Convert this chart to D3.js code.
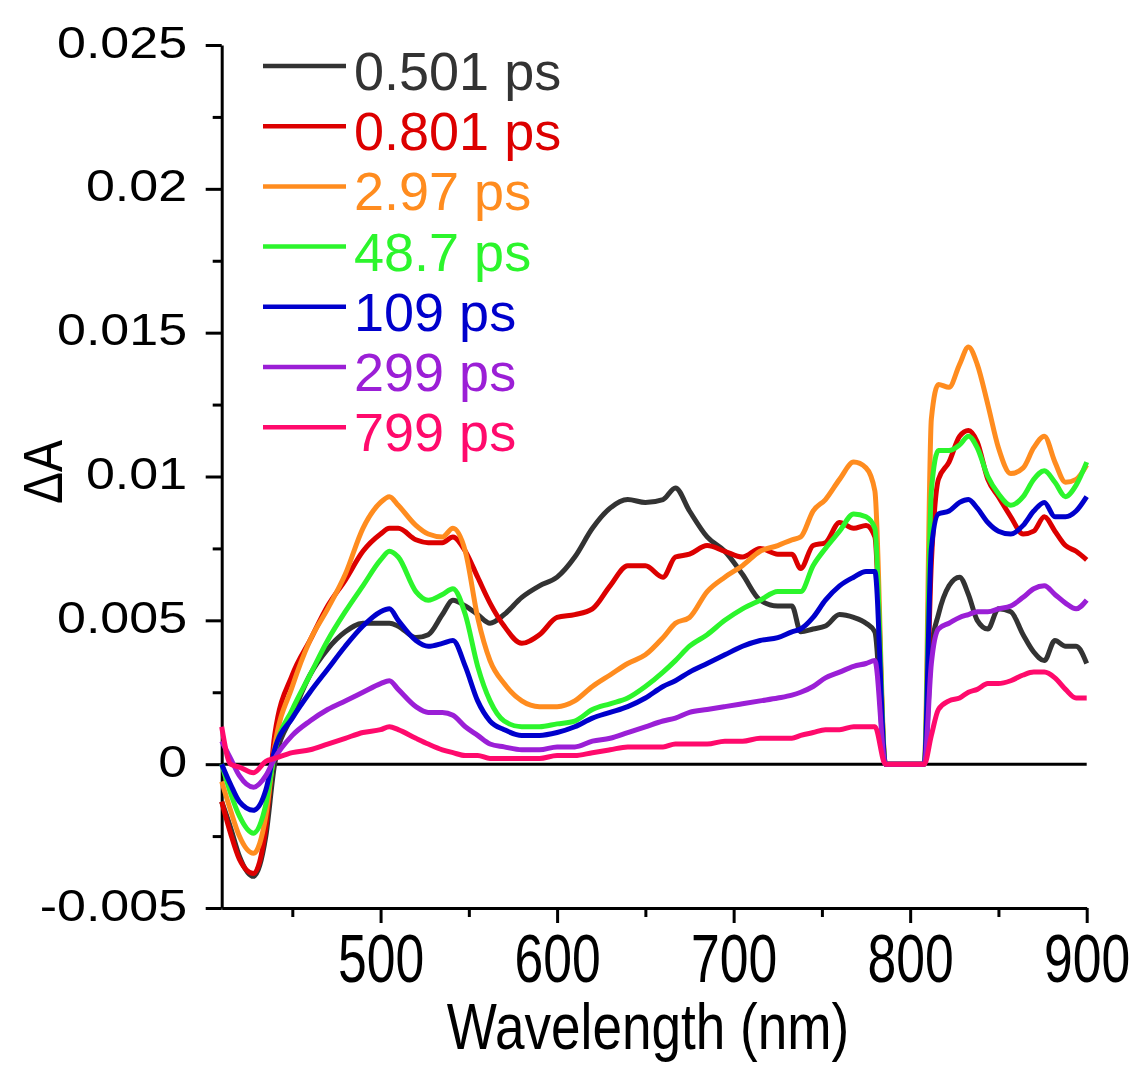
<!DOCTYPE html>
<html>
<head>
<meta charset="utf-8">
<script src="https://cdn.jsdelivr.net/npm/d3@7"></script>
<style>
  body { margin: 0; background: #fff; }
  svg { display: block; font-family: "Liberation Sans", Arial, sans-serif; }
</style>
</head>
<body>
<div id="chart"></div>
<script>
// wavelength grid (nm) shared by all spectra
const wavelengths = [
  410, 415, 420, 428, 435, 440, 450, 460, 470, 480,
  490, 500, 505, 510, 520, 527, 535, 541, 548, 555,
  562, 570, 580, 590, 600, 610, 620, 630, 640, 650,
  660, 667, 675, 685, 695, 705, 715, 725, 733, 738,
  745, 752, 760, 768, 775, 780, 786, 808, 812, 816,
  822, 828, 833, 838, 844, 850, 857, 864, 870, 876,
  882, 888, 894, 900
];

// ΔA values
const dA_0501 = [
  -0.0013, -0.0022, -0.0032, -0.0039, -0.0025, 0.0000, 0.0017, 0.0031, 0.0040, 0.0046,
  0.0049, 0.0049, 0.0049, 0.0048, 0.0044, 0.0045, 0.0052, 0.0057, 0.0055, 0.0052,
  0.0049, 0.0052, 0.0058, 0.0062, 0.0065, 0.0072, 0.0082, 0.0089, 0.0092, 0.0091,
  0.0092, 0.0096, 0.0088, 0.0079, 0.0074, 0.0066, 0.0057, 0.0055, 0.0055, 0.0046,
  0.0047, 0.0048, 0.0052, 0.0051, 0.0049, 0.0046, 0, 0, 0.0040, 0.0052,
  0.0062, 0.0065, 0.0059, 0.0050, 0.0047, 0.0054, 0.0053, 0.0045, 0.0039, 0.0036,
  0.0043, 0.0041, 0.0041, 0.0035
];
const dA_0801 = [
  -0.0013, -0.0024, -0.0033, -0.0038, -0.0022, 0.0010, 0.0031, 0.0043, 0.0055, 0.0064,
  0.0074, 0.0080, 0.0082, 0.0082, 0.0078, 0.0077, 0.0077, 0.0079, 0.0074, 0.0065,
  0.0056, 0.0048, 0.0042, 0.0045, 0.0051, 0.0052, 0.0054, 0.0062, 0.0069, 0.0069,
  0.0065, 0.0072, 0.0073, 0.0076, 0.0074, 0.0072, 0.0075, 0.0073, 0.0073, 0.0068,
  0.0076, 0.0077, 0.0084, 0.0082, 0.0083, 0.0079, 0, 0, 0.0070, 0.0099,
  0.0105, 0.0114, 0.0116, 0.0112, 0.0099, 0.0093, 0.0086, 0.0080, 0.0081, 0.0086,
  0.0081, 0.0076, 0.0074, 0.0071
];
const dA_297 = [
  -0.0006, -0.0016, -0.0025, -0.0031, -0.0018, 0.0006, 0.0027, 0.0043, 0.0054, 0.0066,
  0.0082, 0.0091, 0.0093, 0.0090, 0.0083, 0.0080, 0.0079, 0.0082, 0.0074, 0.0051,
  0.0036, 0.0028, 0.0022, 0.0020, 0.0020, 0.0022, 0.0027, 0.0031, 0.0035, 0.0038,
  0.0044, 0.0049, 0.0051, 0.0060, 0.0065, 0.0069, 0.0074, 0.0076, 0.0078, 0.0079,
  0.0088, 0.0092, 0.0099, 0.0105, 0.0103, 0.0095, 0, 0, 0.0120, 0.0132,
  0.0131, 0.0139, 0.0145, 0.0139, 0.0125, 0.0110, 0.0101, 0.0103, 0.0110, 0.0114,
  0.0105, 0.0098, 0.0099, 0.0104
];
const dA_487 = [
  0.0000, -0.0010, -0.0018, -0.0024, -0.0014, 0.0004, 0.0019, 0.0031, 0.0043, 0.0053,
  0.0062, 0.0071, 0.0074, 0.0072, 0.0060, 0.0057, 0.0059, 0.0061, 0.0052, 0.0034,
  0.0022, 0.0015, 0.0013, 0.0013, 0.0014, 0.0015, 0.0019, 0.0021, 0.0023, 0.0027,
  0.0032, 0.0036, 0.0041, 0.0045, 0.0050, 0.0054, 0.0057, 0.0060, 0.0060, 0.0060,
  0.0069, 0.0075, 0.0081, 0.0087, 0.0086, 0.0082, 0, 0, 0.0095, 0.0109,
  0.0109, 0.0111, 0.0114, 0.0110, 0.0100, 0.0094, 0.0090, 0.0093, 0.0099, 0.0102,
  0.0098, 0.0093, 0.0097, 0.0105
];
const dA_109 = [
  0.0000, -0.0007, -0.0013, -0.0016, -0.0009, 0.0005, 0.0016, 0.0025, 0.0033, 0.0041,
  0.0048, 0.0053, 0.0054, 0.0050, 0.0043, 0.0041, 0.0042, 0.0043, 0.0034, 0.0022,
  0.0015, 0.0012, 0.0010, 0.0010, 0.0011, 0.0013, 0.0016, 0.0018, 0.0020, 0.0023,
  0.0027, 0.0029, 0.0032, 0.0035, 0.0038, 0.0041, 0.0043, 0.0044, 0.0046, 0.0047,
  0.0051, 0.0057, 0.0062, 0.0065, 0.0067, 0.0067, 0, 0, 0.0075, 0.0087,
  0.0088, 0.0091, 0.0092, 0.0089, 0.0084, 0.0081, 0.0080, 0.0083, 0.0088, 0.0091,
  0.0086, 0.0086, 0.0088, 0.0093
];
const dA_299 = [
  0.0008, 0.0002, -0.0004, -0.0008, -0.0004, 0.0002, 0.0010, 0.0015, 0.0019, 0.0022,
  0.0025, 0.0028, 0.0029, 0.0026, 0.0020, 0.0018, 0.0018, 0.0017, 0.0013, 0.0010,
  0.0007, 0.0006, 0.0005, 0.0005, 0.0006, 0.0006, 0.0008, 0.0009, 0.0011, 0.0013,
  0.0015, 0.0016, 0.0018, 0.0019, 0.0020, 0.0021, 0.0022, 0.0023, 0.0024, 0.0025,
  0.0027, 0.0030, 0.0032, 0.0034, 0.0035, 0.0036, 0, 0, 0.0035, 0.0047,
  0.0049, 0.0051, 0.0052, 0.0053, 0.0053, 0.0054, 0.0055, 0.0058, 0.0061, 0.0062,
  0.0059, 0.0056, 0.0054, 0.0057
];
const dA_799 = [
  0.0013, 0.0000, -0.0001, -0.0003, 0.0001, 0.0002, 0.0004, 0.0005, 0.0007, 0.0009,
  0.0011, 0.0012, 0.0013, 0.0012, 0.0009, 0.0007, 0.0005, 0.0004, 0.0003, 0.0003,
  0.0002, 0.0002, 0.0002, 0.0002, 0.0003, 0.0003, 0.0004, 0.0005, 0.0006, 0.0006,
  0.0006, 0.0007, 0.0007, 0.0007, 0.0008, 0.0008, 0.0009, 0.0009, 0.0009, 0.0010,
  0.0011, 0.0012, 0.0012, 0.0013, 0.0013, 0.0013, 0, 0, 0.0010, 0.0019,
  0.0022, 0.0023, 0.0025, 0.0026, 0.0028, 0.0028, 0.0029, 0.0031, 0.0032, 0.0032,
  0.0030, 0.0026, 0.0023, 0.0023
];

const seriesNames = ["0.501 ps", "0.801 ps", "2.97 ps", "48.7 ps", "109 ps", "299 ps", "799 ps"];
const seriesValues = [dA_0501, dA_0801, dA_297, dA_487, dA_109, dA_299, dA_799];
const seriesColors = ["#333333", "#dc0000", "#ff8c1f", "#2cf52c", "#0000cc", "#9b1fd6", "#ff0a6c"];

const xTicks = [500, 600, 700, 800, 900];
const xMinorTicks = [450, 550, 650, 750, 850];
const yTicks = [-0.005, 0, 0.005, 0.01, 0.015, 0.02, 0.025];
const yTickLabels = ["-0.005", "0", "0.005", "0.01", "0.015", "0.02", "0.025"];
const yMinorTicks = [-0.0025, 0.0025, 0.0075, 0.0125, 0.0175, 0.0225];

const width = 1137, height = 1068;

const svg = d3.select("#chart")
  .append("svg")
  .attr("width", width)
  .attr("height", height);

const x = d3.scaleLinear().domain([410, 900]).range([221.7, 1086.7]);
const y = d3.scaleLinear().domain([-0.005, 0.025]).range([908, 45]);

// left axis
const yAxis = svg.append("g")
  .attr("transform", `translate(${x(410)},0)`)
  .call(d3.axisLeft(y)
    .tickValues(yTicks)
    .tickSize(16)
    .tickSizeOuter(0)
    .tickFormat((d, i) => yTickLabels[i]));
yAxis.selectAll("text")
  .attr("x", -30)
  .attr("dy", "0.27em")
  .attr("transform", "scale(1.155,1)")
  .attr("font-size", 45)
  .attr("fill", "#000");

svg.append("g")
  .attr("transform", `translate(${x(410)},0)`)
  .call(d3.axisLeft(y).tickValues(yMinorTicks).tickSize(9).tickFormat(""))
  .call(g => g.select(".domain").remove());

// bottom axis
const xAxis = svg.append("g")
  .attr("transform", `translate(0,${y(-0.005)})`)
  .call(d3.axisBottom(x)
    .tickValues(xTicks)
    .tickSize(15)
    .tickSizeOuter(0)
    .tickFormat(d3.format("d")));
xAxis.selectAll("text")
  .attr("y", 74)
  .attr("dy", 0)
  .attr("transform", "scale(0.76,1)")
  .attr("font-size", 68)
  .attr("fill", "#000");

svg.append("g")
  .attr("transform", `translate(0,${y(-0.005)})`)
  .call(d3.axisBottom(x).tickValues(xMinorTicks).tickSize(9).tickFormat(""))
  .call(g => g.select(".domain").remove());

svg.selectAll(".domain, .tick line")
  .attr("stroke", "#000")
  .attr("stroke-width", 3);

// zero line
svg.append("line")
  .attr("x1", x(410))
  .attr("x2", x(900))
  .attr("y1", y(0))
  .attr("y2", y(0))
  .attr("stroke", "#000")
  .attr("stroke-width", 3);

// spectra
const line = d3.line()
  .x((d, i) => x(wavelengths[i]))
  .y(d => y(d))
  .curve(d3.curveMonotoneX);

svg.append("g")
  .attr("fill", "none")
  .selectAll("path")
  .data(seriesValues)
  .join("path")
  .attr("d", line)
  .attr("stroke", (d, i) => seriesColors[i])
  .attr("stroke-width", 5)
  .attr("stroke-linejoin", "round");

// legend
const legend = svg.append("g")
  .selectAll("g")
  .data(seriesNames)
  .join("g")
  .attr("transform", (d, i) => `translate(0,${66 + i * 60.2})`);

legend.append("line")
  .attr("x1", 263)
  .attr("x2", 346)
  .attr("stroke", (d, i) => seriesColors[i])
  .attr("stroke-width", 4.5);

legend.append("text")
  .attr("x", 354)
  .attr("y", 24)
  .attr("font-size", 54)
  .attr("fill", (d, i) => seriesColors[i])
  .text(d => d);

// axis titles
svg.append("text")
  .attr("transform", "translate(648,1049) scale(0.83,1)")
  .attr("text-anchor", "middle")
  .attr("font-size", 64)
  .text("Wavelength (nm)");

svg.append("text")
  .attr("transform", "translate(62,472) rotate(-90) scale(1,1.15)")
  .attr("text-anchor", "middle")
  .attr("font-size", 48)
  .text("ΔA");
</script>
</body>
</html>
